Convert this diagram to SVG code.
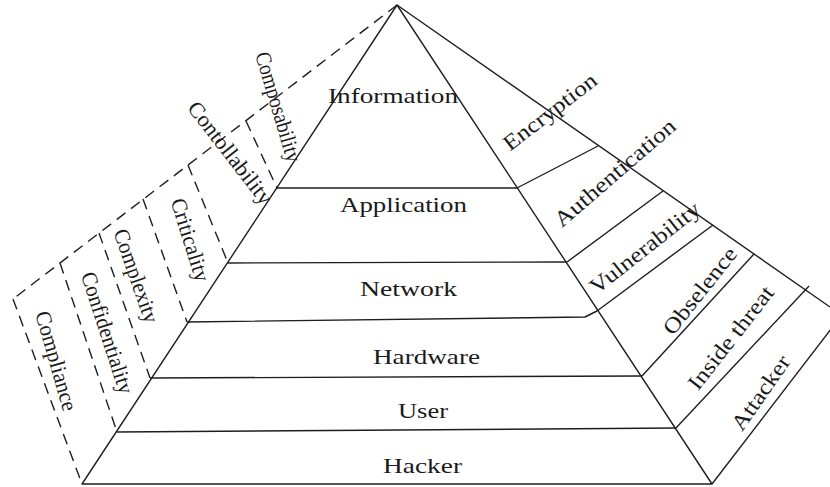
<svg xmlns="http://www.w3.org/2000/svg" width="830" height="487" viewBox="0 0 830 487">
  <style>
    .edge { fill: none; stroke: #1e1e1e; stroke-width: 1.4; stroke-linejoin: round; }
    .dash { fill: none; stroke: #1e1e1e; stroke-width: 1.4; stroke-dasharray: 11 7; }
    .lbl { font-family: "Liberation Serif", "Times New Roman", serif; font-size: 21px; fill: #1a1a1a; }
    .side { font-size: 22px; }
    .mid { text-anchor: middle; }
  </style>
  <rect width="830" height="487" fill="#ffffff"/>

  <!-- pyramid outlines and layer dividers -->
  <g id="connectors">
    <!-- front face -->
    <polygon class="edge" points="397,5 82,484 712,484"/>
    <line class="edge" x1="276" y1="188" x2="517" y2="188"/>
    <line class="edge" x1="228" y1="263" x2="567" y2="262"/>
    <polyline class="edge" points="187,322 585,317 597,311"/>
    <line class="edge" x1="150" y1="378" x2="642" y2="376"/>
    <line class="edge" x1="117" y1="432" x2="676" y2="428"/>

    <!-- right face (threats) -->
    <line class="edge" x1="397" y1="5" x2="830" y2="307"/>
    <line class="edge" x1="517" y1="188" x2="598" y2="146"/>
    <line class="edge" x1="567" y1="262" x2="663" y2="191"/>
    <line class="edge" x1="597" y1="311" x2="713" y2="225"/>
    <line class="edge" x1="642" y1="376" x2="754" y2="254"/>
    <line class="edge" x1="676" y1="428" x2="809" y2="286"/>
    <line class="edge" x1="712" y1="484" x2="838" y2="320"/>

    <!-- left face (properties), dashed -->
    <line class="dash" x1="397" y1="5" x2="13" y2="299"/>
    <line class="dash" x1="13" y1="299" x2="82" y2="484"/>
    <line class="dash" x1="246" y1="121" x2="277" y2="188"/>
    <line class="dash" x1="188" y1="165" x2="228" y2="263"/>
    <line class="dash" x1="143" y1="199" x2="187" y2="322"/>
    <line class="dash" x1="99" y1="233" x2="150" y2="378"/>
    <line class="dash" x1="60" y1="263" x2="117" y2="432"/>
  </g>

  <!-- layers -->
  <g id="layer-information"><text class="lbl mid" x="393" y="103" textLength="130" lengthAdjust="spacingAndGlyphs">Information</text></g>
  <g id="layer-application"><text class="lbl mid" x="403.5" y="212" textLength="127" lengthAdjust="spacingAndGlyphs">Application</text></g>
  <g id="layer-network"><text class="lbl mid" x="408.5" y="296" textLength="97" lengthAdjust="spacingAndGlyphs">Network</text></g>
  <g id="layer-hardware"><text class="lbl mid" x="426.5" y="364" textLength="107" lengthAdjust="spacingAndGlyphs">Hardware</text></g>
  <g id="layer-user"><text class="lbl mid" x="423" y="418" textLength="50" lengthAdjust="spacingAndGlyphs">User</text></g>
  <g id="layer-hacker"><text class="lbl mid" x="422.5" y="473" textLength="79" lengthAdjust="spacingAndGlyphs">Hacker</text></g>

  <!-- properties (left face) -->
  <g id="prop-composability" transform="translate(278,107) rotate(73.3)"><text class="lbl side mid" x="0" y="7" textLength="114" lengthAdjust="spacingAndGlyphs">Composability</text></g>
  <g id="prop-controllability" transform="translate(230,153) rotate(52.3)"><text class="lbl side mid" x="0" y="7" textLength="124" lengthAdjust="spacingAndGlyphs">Contollability</text></g>
  <g id="prop-criticality" transform="translate(190,240) rotate(72.6)"><text class="lbl side mid" x="0" y="7" textLength="86" lengthAdjust="spacingAndGlyphs">Criticality</text></g>
  <g id="prop-complexity" transform="translate(136,276) rotate(70.8)"><text class="lbl side mid" x="0" y="7" textLength="98" lengthAdjust="spacingAndGlyphs">Complexity</text></g>
  <g id="prop-confidentiality" transform="translate(107,333) rotate(72)"><text class="lbl side mid" x="0" y="7" textLength="127" lengthAdjust="spacingAndGlyphs">Confidentiality</text></g>
  <g id="prop-compliance" transform="translate(56,361) rotate(74)"><text class="lbl side mid" x="0" y="7" textLength="103" lengthAdjust="spacingAndGlyphs">Compliance</text></g>

  <!-- threats (right face) -->
  <g id="threat-encryption" transform="translate(550,112) rotate(-37.6)"><text class="lbl side mid" x="0" y="7" textLength="112" lengthAdjust="spacingAndGlyphs">Encryption</text></g>
  <g id="threat-authentication" transform="translate(615,173) rotate(-40.8)"><text class="lbl side mid" x="0" y="7" textLength="153" lengthAdjust="spacingAndGlyphs">Authentication</text></g>
  <g id="threat-vulnerability" transform="translate(645,248) rotate(-38.3)"><text class="lbl side mid" x="0" y="7" textLength="134" lengthAdjust="spacingAndGlyphs">Vulnerability</text></g>
  <g id="threat-obselence" transform="translate(700,291) rotate(-51.6)"><text class="lbl side mid" x="0" y="7" textLength="105" lengthAdjust="spacingAndGlyphs">Obselence</text></g>
  <g id="threat-inside" transform="translate(731,338) rotate(-52)"><text class="lbl side mid" x="0" y="7" textLength="125" lengthAdjust="spacingAndGlyphs">Inside threat</text></g>
  <g id="threat-attacker" transform="translate(761,393) rotate(-55)"><text class="lbl side mid" x="0" y="7" textLength="86" lengthAdjust="spacingAndGlyphs">Attacker</text></g>
</svg>
